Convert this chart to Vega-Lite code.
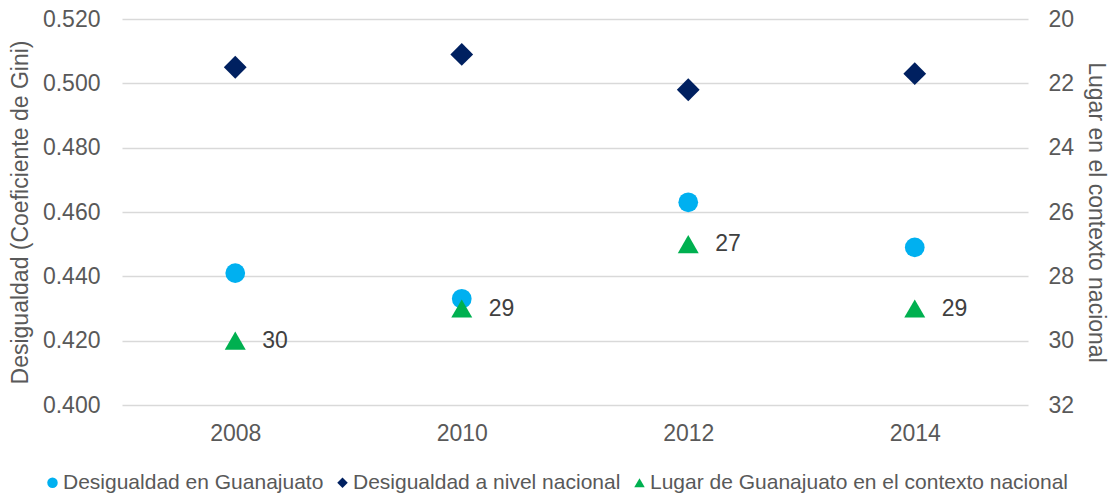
{
  "$schema": "https://vega.github.io/schema/vega-lite/v6.json",
  "width": 906,
  "height": 386,
  "autosize": {"type": "none"},
  "padding": {"left": 122, "top": 19, "right": 84, "bottom": 90},
  "background": "white",
  "config": {
    "view": {"stroke": null},
    "font": "Liberation Sans"
  },
  "data": {"values": [
    {"year": "2008", "series": "Desigualdad en Guanajuato", "value": 0.441},
    {"year": "2010", "series": "Desigualdad en Guanajuato", "value": 0.433},
    {"year": "2012", "series": "Desigualdad en Guanajuato", "value": 0.463},
    {"year": "2014", "series": "Desigualdad en Guanajuato", "value": 0.449},
    {"year": "2008", "series": "Desigualdad a nivel nacional", "value": 0.505},
    {"year": "2010", "series": "Desigualdad a nivel nacional", "value": 0.509},
    {"year": "2012", "series": "Desigualdad a nivel nacional", "value": 0.498},
    {"year": "2014", "series": "Desigualdad a nivel nacional", "value": 0.503},
    {"year": "2008", "series": "Lugar de Guanajuato en el contexto nacional", "value": 30},
    {"year": "2010", "series": "Lugar de Guanajuato en el contexto nacional", "value": 29},
    {"year": "2012", "series": "Lugar de Guanajuato en el contexto nacional", "value": 27},
    {"year": "2014", "series": "Lugar de Guanajuato en el contexto nacional", "value": 29}
  ]},
  "encoding": {
    "x": {"field": "year", "type": "ordinal", "scale": {"paddingInner": 0, "paddingOuter": 0}, "axis": {"title": null, "labelAngle": 0, "labelPadding": 17, "grid": false, "ticks": false, "domain": false, "labelFont": "Liberation Sans", "labelFontSize": 23, "labelColor": "#595959"}}
  },
  "layer": [
    {
      "transform": [{"filter": "datum.series === 'Desigualdad en Guanajuato'"}],
      "mark": {"type": "point", "filled": true, "opacity": 1, "size": 390},
      "encoding": {
        "y": {"field": "value", "type": "quantitative", "scale": {"domain": [0.4, 0.52], "zero": false}, "axis": {"title": "Desigualdad (Coeficiente de Gini)", "values": [0.4, 0.42, 0.44, 0.46, 0.48, 0.5, 0.52], "format": ".3f", "labelPadding": 22, "titlePadding": 10, "ticks": false, "domain": false, "gridColor": "#D9D9D9", "gridWidth": 1.5, "labelFont": "Liberation Sans", "labelFontSize": 23, "labelColor": "#595959", "titleFont": "Liberation Sans", "titleFontSize": 23, "titleFontWeight": "normal", "titleColor": "#595959"}},
        "color": {"field": "series", "type": "nominal", "scale": {"domain": ["Desigualdad en Guanajuato", "Desigualdad a nivel nacional", "Lugar de Guanajuato en el contexto nacional"], "range": ["#00B0F0", "#002060", "#00B050"]}, "legend": {"orient": "none", "legendX": -80, "legendY": 453, "direction": "horizontal", "title": null, "labelFont": "Liberation Sans", "labelFontSize": 21, "labelColor": "#595959", "labelLimit": 600, "labelOffset": 0, "columnPadding": 8, "symbolOpacity": 1, "symbolSize": 110}},
        "shape": {"field": "series", "type": "nominal", "scale": {"domain": ["Desigualdad en Guanajuato", "Desigualdad a nivel nacional", "Lugar de Guanajuato en el contexto nacional"], "range": ["circle", "diamond", "triangle-up"]}}
      }
    },
    {
      "transform": [{"filter": "datum.series === 'Desigualdad a nivel nacional'"}],
      "mark": {"type": "point", "filled": true, "opacity": 1, "size": 520},
      "encoding": {
        "y": {"field": "value", "type": "quantitative", "scale": {"domain": [0.4, 0.52], "zero": false}, "axis": null},
        "color": {"field": "series", "type": "nominal"},
        "shape": {"field": "series", "type": "nominal"}
      }
    },
    {
      "transform": [{"filter": "datum.series === 'Lugar de Guanajuato en el contexto nacional'"}],
      "mark": {"type": "point", "filled": true, "opacity": 1, "size": 440},
      "encoding": {
        "y": {"field": "value", "type": "quantitative", "scale": {"domain": [20, 32], "reverse": true, "zero": false}, "axis": {"orient": "right", "title": "Lugar en el contexto nacional", "values": [20, 22, 24, 26, 28, 30, 32], "grid": false, "labelPadding": 20, "titlePadding": 10, "ticks": false, "domain": false, "labelFont": "Liberation Sans", "labelFontSize": 23, "labelColor": "#595959", "titleFont": "Liberation Sans", "titleFontSize": 23, "titleFontWeight": "normal", "titleColor": "#595959"}},
        "color": {"field": "series", "type": "nominal"},
        "shape": {"field": "series", "type": "nominal"}
      }
    },
    {
      "transform": [{"filter": "datum.series === 'Lugar de Guanajuato en el contexto nacional'"}],
      "mark": {"type": "text", "align": "left", "dx": 27, "fontSize": 23, "color": "#404040", "font": "Liberation Sans"},
      "encoding": {
        "y": {"field": "value", "type": "quantitative", "scale": {"domain": [20, 32], "reverse": true, "zero": false}, "axis": null},
        "text": {"field": "value", "type": "quantitative"}
      }
    }
  ],
  "resolve": {"scale": {"y": "independent"}}
}
